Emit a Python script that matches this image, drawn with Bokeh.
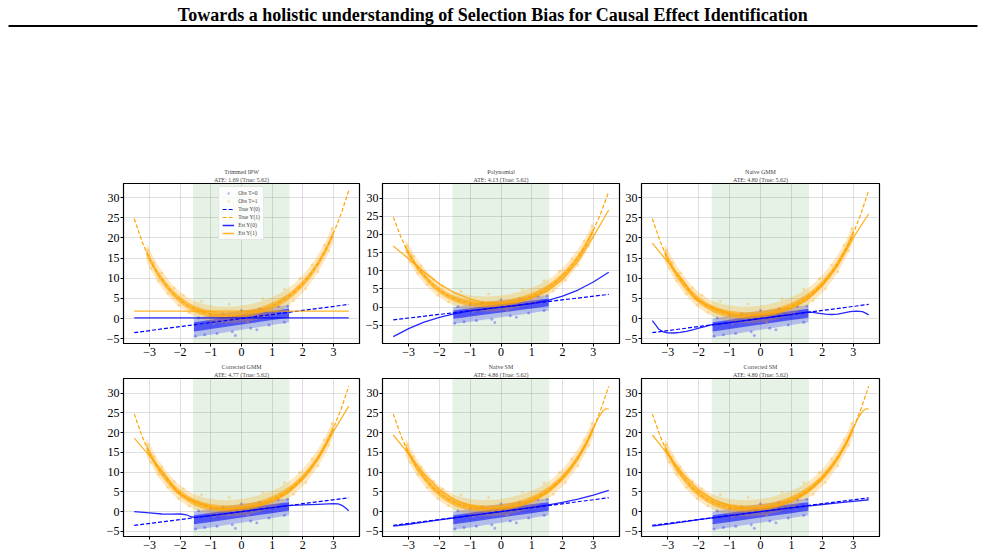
from bokeh.plotting import figure
from bokeh.layouts import column, row
from bokeh.models import Range1d, FixedTicker, Title, BoxAnnotation, Legend, LegendItem
from bokeh.core.properties import value
from bokeh.embed import file_html
from bokeh.resources import INLINE

FONT = "Liberation Serif"
BLUE = "#0000ff"
ORANGE = "#ffa500"

# ---------------- data ----------------
main_title = "Towards a holistic understanding of Selection Bias for Causal Effect Identification"
methods = ["Trimmed IPW", "Polynomial", "Naive GMM", "Corrected GMM", "Naive SM", "Corrected SM"]
ate_labels = ["ATE: 1.69 (True: 5.62)", "ATE: 4.13 (True: 5.62)", "ATE: 4.80 (True: 5.62)",
              "ATE: 4.77 (True: 5.62)", "ATE: 4.86 (True: 5.62)", "ATE: 4.80 (True: 5.62)"]
x_ticks = [-3, -2, -1, 0, 1, 2, 3]
x_tick_labels = ["\u22123", "\u22122", "\u22121", "0", "1", "2", "3"]
y_ticks = [-5, 0, 5, 10, 15, 20, 25, 30]
y_tick_labels = ["\u22125", "0", "5", "10", "15", "20", "25", "30"]

# selection (observed) region
shade_lo, shade_hi = -1.58, 1.57

# true potential outcomes
true_x0 = [-3.5, 3.5]
true_y0 = [-3.5, 3.5]
true_x1 = [-3.5, -3.25, -3.0, -2.75, -2.5, -2.25, -2.0, -1.75, -1.5, -1.25, -1.0, -0.75, -0.5, -0.25,
           0.0, 0.25, 0.5, 0.75, 1.0, 1.25, 1.5, 1.75, 2.0, 2.25, 2.5, 2.75, 3.0, 3.25, 3.5]
true_y1 = [24.75, 19.2, 14.7, 11.3, 8.66, 6.37, 4.6, 3.25, 2.26, 1.55, 1.1, 0.84, 0.76, 0.81,
           1.0, 1.31, 1.76, 2.34, 3.1, 4.05, 5.26, 6.75, 8.6, 10.87, 13.66, 17.03, 21.1, 25.97, 31.75]

cloud1_x = [-3.1, -2.75, -2.5, -2.25, -2.0, -1.75, -1.5, -1.25, -1.0, -0.75, -0.5, -0.25, 0.0,
            0.25, 0.5, 0.75, 1.0, 1.25, 1.5, 1.75, 2.0, 2.25, 2.5, 2.75, 3.0]
cloud1_outer_lo = [14.0, 9.2, 6.6, 4.4, 2.7, 1.4, 0.4, -0.3, -0.8, -1.1, -1.2, -1.2, -1.0,
                   -0.7, -0.3, 0.3, 1.0, 1.9, 3.1, 4.6, 6.4, 8.7, 11.5, 14.8, 18.9]
cloud1_outer_hi = [18.6, 13.5, 10.8, 8.4, 6.6, 5.2, 4.2, 3.6, 3.2, 3.0, 2.9, 3.0, 3.2,
                   3.5, 4.0, 4.6, 5.3, 6.2, 7.4, 8.9, 10.8, 13.1, 15.9, 19.2, 23.3]
cloud1_inner_lo = [15.5, 10.5, 7.85, 5.55, 3.8, 2.45, 1.45, 0.75, 0.3, 0.05, -0.05, 0.0, 0.2,
                   0.5, 0.95, 1.55, 2.3, 3.25, 4.45, 5.95, 7.8, 10.05, 12.85, 16.2, 20.3]
cloud1_inner_hi = [17.1, 12.1, 9.45, 7.15, 5.4, 4.05, 3.05, 2.35, 1.9, 1.65, 1.55, 1.6, 1.8,
                   2.1, 2.55, 3.15, 3.9, 4.85, 6.05, 7.55, 9.4, 11.65, 14.45, 17.8, 21.9]
# observed T=0 cloud
cloud0_x = [-1.55, -1.25, -1.0, -0.5, 0.0, 0.5, 1.0, 1.25, 1.55]
cloud0_outer_lo = [-4.6, -4.3, -4.0, -3.4, -2.8, -2.2, -1.6, -1.3, -0.9]
cloud0_outer_hi = [-0.1, 0.4, 0.8, 1.4, 1.9, 2.4, 2.9, 3.1, 3.3]
cloud0_inner_lo = [-3.2, -2.9, -2.6, -2.05, -1.5, -0.95, -0.4, -0.1, 0.25]
cloud0_inner_hi = [-0.9, -0.6, -0.3, 0.3, 0.85, 1.35, 1.85, 2.1, 2.4]

# sparse individual observations
obs1_x = [-3.05, -2.95, -2.85, -2.7, -2.6, -2.4, -2.2, -2.05, -1.9, -1.7, -1.3, -0.9, -0.4,
          0.2, 0.7, 1.1, 1.4, 1.7, 1.9, 2.1, 2.3, 2.5, 2.7, 2.85, 2.95]
obs1_y = [16.9, 12.5, 13.9, 9.4, 11.3, 6.2, 7.6, 3.3, 5.8, 1.5, 4.3, -1.2, 3.6,
          -0.9, 4.9, 1.2, 7.3, 4.4, 9.9, 7.4, 13.3, 11.6, 18.2, 16.8, 22.3]
obs0_x = [-1.5, -1.4, -1.2, -1.0, -0.8, -0.6, -0.3, 0.0, 0.3, 0.6, 0.9, 1.2, 1.4, 1.5, -0.2, 0.5]
obs0_y = [-4.4, 0.2, -4.0, 0.9, -3.7, 1.2, -3.3, 2.0, -2.4, 2.4, -1.6, 3.0, -0.9, 3.1, -4.2, -2.8]

# estimated curves per method
ipw_x = [-3.5, 3.5]
ipw_y0 = [0.15, 0.15]
ipw_y1 = [1.84, 1.84]

poly_x = [-3.5, -3.0, -2.5, -2.0, -1.5, -1.0, -0.5, 0.0, 0.5, 1.0, 1.5, 2.0, 2.5, 3.0, 3.5]
poly_y0 = [-8.1, -5.9, -4.1, -2.8, -1.8, -1.0, -0.45, 0.0, 0.45, 1.0, 1.8, 3.0, 4.7, 6.9, 9.6]
poly_y1 = [16.8, 13.3, 9.7, 6.4, 3.9, 2.2, 1.2, 1.0, 1.4, 2.5, 4.4, 7.6, 12.6, 19.4, 26.7]

ngmm_x0 = [-3.5, -3.4, -3.3, -3.15, -3.0, -2.8, -2.6, -2.4, -2.2, -2.0, -1.8, -1.6, -1.4, -1.0,
           -0.5, 0.0, 0.5, 1.0, 1.3, 1.5, 1.7, 1.9, 2.1, 2.3, 2.5, 2.7, 2.9, 3.1, 3.3, 3.4, 3.5]
ngmm_y0 = [-0.5, -1.5, -2.6, -3.3, -3.55, -3.6, -3.45, -3.2, -2.8, -2.4, -2.0, -1.6, -1.4, -1.0,
           -0.5, 0.0, 0.5, 1.0, 1.35, 1.55, 1.5, 1.3, 1.1, 1.0, 1.1, 1.4, 1.7, 1.85, 1.7, 1.35, 0.9]
ngmm_x1 = [-3.5, -3.0, -2.5, -2.1, -1.8, -1.5, -1.0, -0.6, 0.0, 0.5, 1.0, 1.5, 2.0, 2.5, 3.0, 3.5]
ngmm_y1 = [18.7, 14.0, 9.4, 4.8, 3.6, 2.6, 1.3, 0.6, 0.9, 1.4, 2.6, 4.6, 8.3, 13.2, 20.0, 26.0]

cgmm_x0 = [-3.5, -3.0, -2.6, -2.3, -2.0, -1.8, -1.65, -1.5, -1.0, -0.5, 0.0, 0.5, 1.0, 1.5, 2.0,
           2.5, 3.0, 3.15, 3.3, 3.4, 3.5]
cgmm_y0 = [0.0, -0.3, -0.6, -0.65, -0.6, -0.8, -1.3, -1.45, -1.0, -0.5, 0.0, 0.5, 1.0, 1.5, 1.7,
           1.85, 2.0, 1.95, 1.5, 0.9, 0.2]
cgmm_x1 = [-3.5, -3.0, -2.5, -2.1, -1.8, -1.5, -1.0, -0.6, 0.0, 0.5, 1.0, 1.5, 2.0, 2.5, 3.0, 3.5]
cgmm_y1 = [18.6, 14.1, 9.5, 4.9, 3.5, 2.5, 1.2, 0.6, 0.9, 1.4, 2.6, 4.7, 8.4, 13.4, 20.3, 26.7]

sm_x0 = [-3.5, -3.0, -2.5, -2.0, -1.5, -1.0, -0.5, 0.0, 0.5, 1.0, 1.5, 2.0, 2.5, 3.0, 3.5]
nsm_y0 = [-3.7, -3.2, -2.65, -2.1, -1.55, -1.0, -0.5, 0.0, 0.5, 1.05, 1.65, 2.35, 3.15, 4.2, 5.4]
csm_y0 = [-3.7, -3.15, -2.6, -2.05, -1.5, -1.0, -0.5, 0.0, 0.45, 0.95, 1.4, 1.8, 2.2, 2.6, 3.0]
sm_x1 = [-3.5, -3.0, -2.5, -2.0, -1.5, -1.0, -0.5, 0.0, 0.5, 1.0, 1.5, 2.0, 2.5, 2.8, 3.0, 3.15,
         3.3, 3.4, 3.5]
nsm_y1 = [19.4, 14.6, 9.6, 5.6, 3.0, 1.5, 0.8, 0.8, 1.3, 2.6, 4.8, 8.4, 13.4, 17.6, 21.0, 23.6,
          25.4, 26.0, 26.0]
csm_y1 = [19.4, 14.5, 9.5, 5.5, 3.0, 1.5, 0.8, 0.8, 1.3, 2.6, 4.8, 8.4, 13.4, 17.6, 21.0, 23.6,
          25.4, 26.0, 26.0]

est_curves = [
    (ipw_x, ipw_y0, ipw_x, ipw_y1),
    (poly_x, poly_y0, poly_x, poly_y1),
    (ngmm_x0, ngmm_y0, ngmm_x1, ngmm_y1),
    (cgmm_x0, cgmm_y0, cgmm_x1, cgmm_y1),
    (sm_x0, nsm_y0, sm_x1, nsm_y1),
    (sm_x0, csm_y0, sm_x1, csm_y1),
]
y_limits = [(-6.2, 33.5), (-10.0, 34.0), (-6.2, 33.5), (-6.3, 33.7), (-6.3, 33.7), (-6.3, 33.7)]

# ---------------- layout ----------------
widths = [361, 260, 364]
borders_lr = [(123, 2), (21, 2), (20, 106)]
row_heights = [196, 193]
borders_tb = [(18, 18), (14, 18)]


def make_panel(i):
    r, c = divmod(i, 3)
    lo, hi = y_limits[i]
    p = figure(width=widths[c], height=row_heights[r],
               x_range=Range1d(-3.85, 3.85), y_range=Range1d(lo, hi),
               output_backend="svg", toolbar_location=None, title=None,
               min_border_left=borders_lr[c][0], min_border_right=borders_lr[c][1],
               min_border_top=borders_tb[r][0], min_border_bottom=borders_tb[r][1])
    p.background_fill_color = "white"
    p.border_fill_color = "white"
    p.outline_line_color = "black"
    p.outline_line_width = 1.2
    p.outline_line_alpha = 1

    p.add_layout(Title(text=ate_labels[i], align="center", text_font=FONT, text_font_size="6px",
                       text_font_style="normal", standoff=1), "above")
    p.add_layout(Title(text=methods[i], align="center", text_font=FONT, text_font_size="6px",
                       text_font_style="normal", standoff=0), "above")

    p.xaxis.ticker = FixedTicker(ticks=x_ticks)
    p.yaxis.ticker = FixedTicker(ticks=y_ticks)
    p.xaxis.major_label_overrides = {t: l for t, l in zip(x_ticks, x_tick_labels)}
    p.yaxis.major_label_overrides = {t: l for t, l in zip(y_ticks, y_tick_labels)}
    for ax in (p.xaxis, p.yaxis):
        ax.major_label_text_font = FONT
        ax.major_label_text_font_size = "12px"
        ax.major_label_text_color = "black"
        ax.major_tick_out = 3
        ax.major_tick_in = 0
        ax.minor_tick_out = 0
        ax.minor_tick_in = 0
        ax.axis_line_color = "black"
        ax.major_tick_line_color = "black"
        ax.major_label_standoff = 1
    p.grid.grid_line_color = "#b0b0b0"
    p.grid.grid_line_alpha = 0.4
    p.grid.grid_line_width = 1

    p.add_layout(BoxAnnotation(left=shade_lo, right=shade_hi, fill_color="green", fill_alpha=0.1,
                               line_alpha=0, level="underlay"))

    # observed clouds
    p.varea(x=cloud0_x, y1=cloud0_outer_lo, y2=cloud0_outer_hi, fill_color=BLUE, fill_alpha=0.22)
    p.varea(x=cloud0_x, y1=cloud0_inner_lo, y2=cloud0_inner_hi, fill_color=BLUE, fill_alpha=0.55)
    s0 = p.scatter(obs0_x, obs0_y, size=3, color=BLUE, alpha=0.3, line_alpha=0)
    p.varea(x=cloud1_x, y1=cloud1_outer_lo, y2=cloud1_outer_hi, fill_color=ORANGE, fill_alpha=0.25)
    p.varea(x=cloud1_x, y1=cloud1_inner_lo, y2=cloud1_inner_hi, fill_color=ORANGE, fill_alpha=0.62)
    s1 = p.scatter(obs1_x, obs1_y, size=3, color=ORANGE, alpha=0.3, line_alpha=0)

    ex0, ey0, ex1, ey1 = est_curves[i]
    l_t0 = p.line(true_x0, true_y0, line_color=BLUE, line_dash="4 2", line_width=1.2)
    l_t1 = p.line(true_x1, true_y1, line_color=ORANGE, line_dash="4 2", line_width=1.2)
    l_e0 = p.line(ex0, ey0, line_color=BLUE, line_width=1.3, line_alpha=0.85)
    l_e1 = p.line(ex1, ey1, line_color=ORANGE, line_width=1.3, line_alpha=0.85)

    if i == 0:
        legend = Legend(items=[
            LegendItem(label="Obs T=0", renderers=[s0]),
            LegendItem(label="Obs T=1", renderers=[s1]),
            LegendItem(label="True Y(0)", renderers=[l_t0]),
            LegendItem(label="True Y(1)", renderers=[l_t1]),
            LegendItem(label="Est Y(0)", renderers=[l_e0]),
            LegendItem(label="Est Y(1)", renderers=[l_e1]),
        ], location="top_center")
        legend.label_text_font = FONT
        legend.label_text_font_size = "5.5px"
        legend.label_height = 6
        legend.glyph_height = 6
        legend.glyph_width = 12
        legend.spacing = 2
        legend.padding = 3
        legend.margin = 3
        legend.label_standoff = 4
        legend.border_line_color = "#cccccc"
        legend.background_fill_alpha = 0.85
        p.add_layout(legend, "center")
    return p


panels = [make_panel(i) for i in range(6)]

header = figure(width=985, height=165, x_range=Range1d(0, 985), y_range=Range1d(165, 0),
                output_backend="svg", toolbar_location=None, x_axis_type=None, y_axis_type=None,
                min_border=0, title=None)
header.outline_line_color = None
header.grid.visible = False
header.text(x=[492.5], y=[14], text=[main_title], text_align="center", text_baseline="middle",
            text_font=value(FONT), text_font_style="bold", text_font_size="18px", text_color="black")
header.segment(x0=[8], y0=[25.5], x1=[977], y1=[25.5], line_color="black", line_width=2)

layout = column(header, row(*panels[:3]), row(*panels[3:]))
open("out.html", "w").write(file_html(layout, INLINE))
